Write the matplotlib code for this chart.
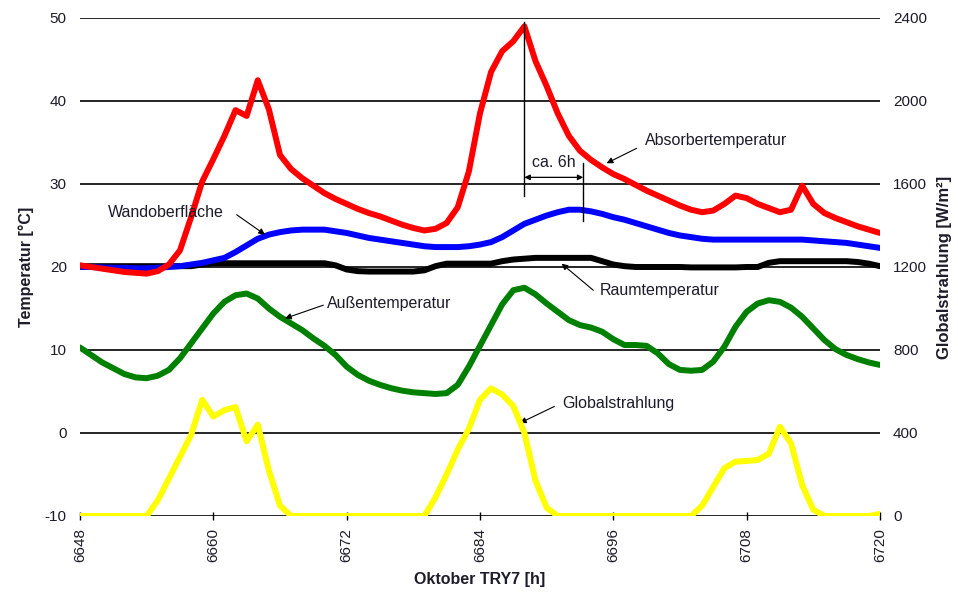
import matplotlib
matplotlib.use("Agg")
import matplotlib.pyplot as plt
import numpy as np

plt.rcParams['font.family'] = ['Liberation Sans', 'DejaVu Sans']

# Hourly values, October test reference year (TRY7)
hours = np.arange(6648, 6721)

absorber = [20.2, 20.0, 19.8, 19.6, 19.4, 19.3, 19.2, 19.5, 20.3, 22.0,
            26.0, 30.3, 33.0, 35.8, 38.9, 38.2, 42.5, 39.0, 33.5, 31.8,
            30.7, 29.8, 28.9, 28.2, 27.6, 27.0, 26.5, 26.1, 25.6, 25.1,
            24.7, 24.4, 24.6, 25.3, 27.2, 31.5, 38.5, 43.5, 46.0, 47.2,
            49.0, 44.8, 41.8, 38.5, 35.8, 34.0, 32.9, 32.0, 31.2, 30.6,
            29.9, 29.2, 28.6, 28.0, 27.4, 26.9, 26.6, 26.8, 27.6, 28.6,
            28.3, 27.6, 27.1, 26.6, 26.9, 29.8, 27.6, 26.5, 25.9, 25.4,
            24.9, 24.5, 24.1]

wand = [20.0, 20.0, 19.95, 19.9, 19.9, 19.85, 19.85, 19.9, 20.0, 20.1,
        20.3, 20.5, 20.8, 21.1, 21.8, 22.6, 23.4, 23.9, 24.2, 24.4,
        24.5, 24.5, 24.5, 24.3, 24.1, 23.8, 23.5, 23.3, 23.1, 22.9,
        22.7, 22.5, 22.4, 22.4, 22.4, 22.5, 22.7, 23.0, 23.6, 24.4,
        25.2, 25.7, 26.2, 26.6, 26.9, 26.9, 26.7, 26.4, 26.0, 25.7,
        25.3, 24.9, 24.5, 24.1, 23.8, 23.6, 23.4, 23.3, 23.3, 23.3,
        23.3, 23.3, 23.3, 23.3, 23.3, 23.3, 23.2, 23.1, 23.0, 22.9,
        22.7, 22.5, 22.3]

raum = [20.1, 20.1, 20.1, 20.1, 20.1, 20.1, 20.1, 20.1, 20.1, 20.1,
        20.1, 20.3, 20.45, 20.45, 20.45, 20.45, 20.45, 20.45, 20.45, 20.45,
        20.45, 20.45, 20.45, 20.2, 19.7, 19.5, 19.45, 19.45, 19.45, 19.45,
        19.45, 19.6, 20.1, 20.4, 20.4, 20.4, 20.4, 20.4, 20.7, 20.9,
        21.0, 21.1, 21.1, 21.1, 21.1, 21.1, 21.1, 20.7, 20.3, 20.1,
        20.0, 20.0, 20.0, 20.0, 20.0, 19.95, 19.95, 19.95, 19.95, 19.95,
        20.0, 20.0, 20.5, 20.7, 20.7, 20.7, 20.7, 20.7, 20.7, 20.7,
        20.6, 20.4, 20.1]

aussen = [10.3, 9.4, 8.5, 7.8, 7.1, 6.7, 6.6, 6.9, 7.6, 9.0,
          10.8, 12.6, 14.4, 15.8, 16.6, 16.8, 16.2, 15.0, 14.0, 13.2,
          12.4, 11.4, 10.5, 9.4, 8.0, 7.0, 6.3, 5.8, 5.4, 5.1,
          4.9, 4.8, 4.7, 4.8, 5.8, 8.0, 10.5, 13.0, 15.5, 17.2,
          17.5, 16.7, 15.6, 14.6, 13.6, 13.0, 12.7, 12.2, 11.3, 10.6,
          10.6, 10.5, 9.6, 8.3, 7.6, 7.5, 7.6, 8.6, 10.4, 12.8,
          14.6, 15.6, 16.0, 15.8, 15.1, 14.0, 12.6, 11.2, 10.1, 9.4,
          8.9, 8.5, 8.2]

global_rad = [0, 0, 0, 0, 0, 0, 0, 75, 180, 285,
              390, 560, 479, 510, 525, 360, 440, 220, 50, 0,
              0, 0, 0, 0, 0, 0, 0, 0, 0, 0,
              0, 0, 90, 200, 320, 420, 560, 615, 585, 530,
              400, 170, 40, 0, 0, 0, 0, 0, 0, 0,
              0, 0, 0, 0, 0, 0, 50, 140, 230, 262,
              265, 270, 300, 430, 350, 150, 30, 0, 0, 0,
              0, 0, 10]

temp_ticks = [-10, 0, 10, 20, 30, 40, 50]
rad_ticks = [0, 400, 800, 1200, 1600, 2000, 2400]
hour_ticks = [6648, 6660, 6672, 6684, 6696, 6708, 6720]

txt = '#1c1c2a'
lw = 4.3

fig = plt.figure(figsize=(9.58, 5.92), dpi=100)
ax = fig.add_axes([0.0835, 0.1284, 0.835, 0.8412])
ax2 = ax.twinx()

for y in temp_ticks:
    ax.axhline(y, color='black', lw=1.2, zorder=1)

ax.plot(hours, raum, color='black', lw=lw, solid_joinstyle='round', solid_capstyle='round', zorder=3)
ax.plot(hours, aussen, color='#008000', lw=lw, solid_joinstyle='round', solid_capstyle='round', zorder=3)
ax.plot(hours, wand, color='#0000ff', lw=lw, solid_joinstyle='round', solid_capstyle='round', zorder=4)
ax.plot(hours, absorber, color='#ff0000', lw=lw, solid_joinstyle='round', solid_capstyle='round', zorder=5)
ax2.plot(hours, global_rad, color='#ffff00', lw=lw, solid_joinstyle='round', solid_capstyle='round')

ax.set_xlim(6648, 6720)
ax.set_ylim(-10, 50)
ax2.set_ylim(0, 2400)

for a in (ax, ax2):
    for s in a.spines.values():
        s.set_visible(False)

ax.set_yticks(temp_ticks)
ax.set_yticklabels([str(t) for t in temp_ticks])
ax2.set_yticks(rad_ticks)
ax2.set_yticklabels([str(t) for t in rad_ticks])
ax.tick_params(axis='y', length=0, pad=9.5, labelsize=11, labelcolor=txt)
ax2.tick_params(axis='y', length=0, pad=9.5, labelsize=11, labelcolor=txt)

ax.set_xticks(hour_ticks)
ax.set_xticklabels([str(h) for h in hour_ticks], rotation=90)
ax.tick_params(axis='x', direction='inout', length=6, width=1, pad=6,
               labelsize=11, labelcolor=txt, color='black')

ax.set_ylabel('Temperatur [°C]', fontsize=11.5, fontweight='bold', color=txt, labelpad=8)
ax2.set_ylabel('Globalstrahlung [W/m²]', fontsize=12, fontweight='bold', color=txt,
               labelpad=7, rotation=90)
ax.set_xlabel('Oktober TRY7 [h]', fontsize=11.5, fontweight='bold', color=txt, labelpad=7)

# Curve labels with pointer arrows
arrow = dict(arrowstyle='-|>', color='black', lw=0.8, mutation_scale=9, shrinkA=0, shrinkB=0)
notes = [
    ('Absorbertemperatur', (6698.85, 35.3), (6698.1, 34.3), (6695.4, 32.5)),
    ('Wandoberfläche', (6650.5, 26.6), (6662.1, 26.3), (6664.65, 23.9)),
    ('Außentemperatur', (6670.2, 15.6), (6669.9, 15.4), (6666.45, 13.8)),
    ('Raumtemperatur', (6694.8, 17.2), (6694.2, 17.2), (6691.35, 20.4)),
    ('Globalstrahlung', (6691.4, 3.6), (6690.7, 3.2), (6687.6, 1.2)),
]
for label, pos, tail, head in notes:
    ax.text(pos[0], pos[1], label, fontsize=11.5, color=txt, ha='left', va='center', zorder=6)
    ax.annotate('', xy=head, xytext=tail, arrowprops=arrow, zorder=6)

# Time lag between absorber peak and wall surface peak
peak_h = hours[int(np.argmax(absorber))]
lag_h = 6693.3
ax.plot([peak_h, peak_h], [28.5, 49.55], color='black', lw=1, zorder=6)
ax.plot([lag_h, lag_h], [25.5, 32.5], color='black', lw=1, zorder=6)
ax.annotate('', xy=(peak_h, 30.8), xytext=(lag_h, 30.8),
            arrowprops=dict(arrowstyle='<|-|>', color='black', lw=0.9,
                            mutation_scale=8, shrinkA=0, shrinkB=0), zorder=6)
ax.text((peak_h + lag_h) / 2, 32.6, 'ca. 6h', fontsize=11.5, color=txt,
        ha='center', va='center', zorder=6)

fig.savefig('out.png', dpi=100)
